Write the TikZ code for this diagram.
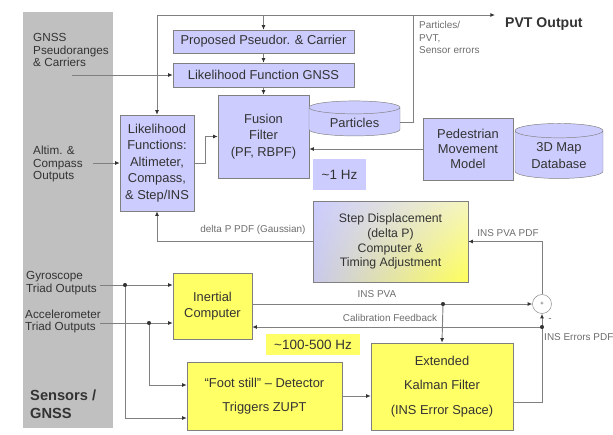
\documentclass[tikz,border=0pt]{standalone}
\usepackage{fontspec}
\setmainfont{Liberation Sans}
\usetikzlibrary{arrows.meta, shapes.geometric, shadings}
\definecolor{Lav}{RGB}{204,204,255}
\definecolor{Yel}{RGB}{255,255,102}
\definecolor{Pnl}{RGB}{192,192,192}
\definecolor{Ln}{RGB}{128,128,128}
\definecolor{Txt}{RGB}{51,51,51}

\tikzset{
    box/.style={draw=Ln, text=Txt, align=center, inner sep=1pt,
        font=\fontsize{11}{14}\selectfont},
    lavbox/.style={box, fill=Lav},
    yelbox/.style={box, fill=Yel},
    dbase/.style={cylinder, shape border rotate=90, aspect=0.25, draw=Ln,
        fill=Lav, text=Txt, align=center, inner sep=1pt,
        font=\fontsize{11}{14}\selectfont},
    rate/.style={text=Txt, inner sep=0pt, font=\fontsize{11.5}{13}\selectfont},
    side/.style={anchor=west, align=left, text=Txt, inner sep=0pt,
        font=\fontsize{10}{11}\selectfont},
    lbl/.style={text=Ln!85!black, inner sep=0pt, align=left,
        font=\fontsize{8.5}{10.5}\selectfont},
    ln/.style={Ln, line width=0.8pt},
    arr/.style={ln, -{Latex[length=4pt, width=3.5pt, color=black!80]}},
    jn/.style={circle, fill=black!80, inner sep=0pt, minimum size=3.5pt}
}

\begin{document}
\begin{tikzpicture}[x=0.03cm, y=-0.03cm]

    \useasboundingbox (0,0) rectangle (613,434);

    %% Sensors panel
    \fill[Pnl] (23,12) rectangle (113,428);
    \node[side] (gnsstxt) at (33,50) {GNSS\\Pseudoranges\\\& Carriers};
    \node[side] (altimtxt) at (33,164) {Altim. \&\\Compass\\Outputs};
    \node[side] (gyrotxt) at (26,283.5) {Gyroscope\\Triad Outputs};
    \node[side] (acctxt) at (25,321.5) {Accelerometer\\Triad Outputs};
    \node[side, font=\fontsize{12.5}{15.5}\selectfont\bfseries] (senstxt) at (30,404) {Sensors /\\GNSS};

    %% --- ~1 Hz part ---
    \node[lavbox, minimum width=5.43cm, minimum height=0.69cm] (prop) at (263.5,41.5) {Proposed Pseudor. \& Carrier};
    \node[lavbox, minimum width=5.43cm, minimum height=0.72cm] (likgnss) at (263.5,75) {Likelihood Function GNSS};
    \node[lavbox, minimum width=2.22cm, minimum height=2.88cm] (likfun) at (157,163) {Likelihood\\Functions:\\Altimeter,\\Compass,\\\& Step/INS};
    \node[lavbox, minimum width=2.73cm, minimum height=2.49cm] (fusion) at (263.5,136.5) {Fusion\\Filter\\(PF, RBPF)};
    \node[dbase, minimum width=2.73cm, minimum height=1.05cm] (particles) at (354.5,122.5) {Particles};
    \node[lavbox, minimum width=2.7cm, minimum height=1.86cm, font=\fontsize{11}{12.75}\selectfont] (ped) at (468,149) {Pedestrian\\Movement\\Model};
    \node[dbase, minimum width=2.64cm, minimum height=1.65cm] (map) at (559,155.5) {3D Map\\Database};
    \node[rate, fill=Lav, minimum width=1.59cm, minimum height=0.93cm] (onehz) at (339.5,174.5) {\textasciitilde 1 Hz};
    \node[box, shade, upper left=Lav, lower right=Yel!90!yellow, upper right=Lav!30!Yel!60!white, lower left=Lav!70!Pnl,
          minimum width=4.65cm, minimum height=2.43cm, font=\fontsize{10.5}{12.5}\selectfont] (step) at (390.5,241.5) {Step Displacement\\(delta P)\\Computer \&\\Timing Adjustment};

    %% --- ~100-500 Hz part ---
    \node[yelbox, minimum width=2.37cm, minimum height=1.98cm] (inertial) at (212.5,306) {Inertial\\Computer};
    \node[rate, fill=Yel, minimum width=2.82cm, minimum height=0.63cm] (hundred) at (313,344.5) {\textasciitilde 100-500 Hz};
    \node[yelbox, minimum width=4.65cm, minimum height=2.04cm, font=\fontsize{11}{20}\selectfont] (foot) at (264.5,396) {“Foot still” – Detector\\Triggers ZUPT};
    \node[yelbox, minimum width=4.26cm, minimum height=2.61cm, font=\fontsize{11}{21}\selectfont] (ekf) at (442,386.5) {Extended\\Kalman Filter\\(INS Error Space)};
    \node[circle, draw=Ln, fill=white, minimum size=0.57cm, inner sep=0pt, text=Txt, font=\tiny] (sum) at (542,304) {+};

    %% Labels
    \node[lbl, anchor=west] (partlbl) at (419,37.5) {Particles/\\PVT,\\Sensor errors};
    \node[anchor=west, inner sep=0pt, text=Txt, font=\fontsize{12}{14}\selectfont\bfseries] (pvt) at (505,24) {PVT Output};
    \node[lbl] (deltalbl) at (253,230) {delta P PDF (Gaussian)};
    \node[lbl] (pdflbl) at (508,233) {INS PVA PDF};
    \node[lbl] (pvalbl) at (377,294) {INS PVA};
    \node[lbl] (callbl) at (390,318) {Calibration Feedback};
    \node[lbl, anchor=west] (errlbl) at (544,337) {INS Errors PDF};
    \node[lbl] (minus) at (550,320) {-};

    %% Free ends and junctions
    \coordinate (bus) at (413,15);
    \coordinate (pvtend) at (495,15);
    \coordinate (gnssout) at (72,75);
    \coordinate (altimout) at (93,163);
    \coordinate (gyro) at (100,285);
    \coordinate (acc) at (100,323);
    \coordinate (gj) at (125,285);
    \coordinate (gjlow) at (125,418);
    \coordinate (aj) at (149,323);
    \coordinate (ajlow) at (149,385);
    \coordinate (pvaj) at (443,304);
    \coordinate (cal) at (542,327);
    \coordinate (ekfout) at (513,402);

    %% Connectors, top
    \draw[arr] (particles.east) -| (bus) -- (pvtend);
    \draw[arr] (bus) -| (likfun.north);
    \draw[arr] (prop.north |- bus) -- (prop.north);
    \draw[arr] (prop) -- (likgnss);
    \draw[arr] (likgnss) -- (fusion);
    \draw[arr] (gnssout) -- (likgnss.west |- gnssout);
    \draw[arr] (altimout) -- (likfun.west |- altimout);
    \draw[arr] (likfun.east) -- ++(11,0) |- (fusion.west);
    \draw[arr] (ped.west) -- (fusion.east |- ped.west);
    \draw[arr] (step.west) -| (likfun.south);
    \draw[arr] (sum.north) |- (step.east);

    %% Connectors, bottom
    \draw[arr] (gyro) -- (inertial.west |- gyro);
    \draw[arr] (acc) -- (inertial.west |- acc);
    \draw[arr] (gj) -- (gjlow) -- (foot.west |- gjlow);
    \draw[arr] (aj) -- (ajlow) -- (foot.west |- ajlow);
    \draw[arr] (foot.east) -- (ekf.west |- foot.east);
    \draw[arr] (inertial.east |- sum.west) -- (sum.west);
    \draw[arr] (pvaj) -- (ekf.north);
    \draw[arr] (ekfout) -| (sum.south);
    \draw[arr] (cal) -- (inertial.east |- cal);

    \node[jn] at (gj) {};
    \node[jn] at (aj) {};
    \node[jn] at (pvaj) {};
    \node[jn] at (cal) {};

\end{tikzpicture}
\end{document}
